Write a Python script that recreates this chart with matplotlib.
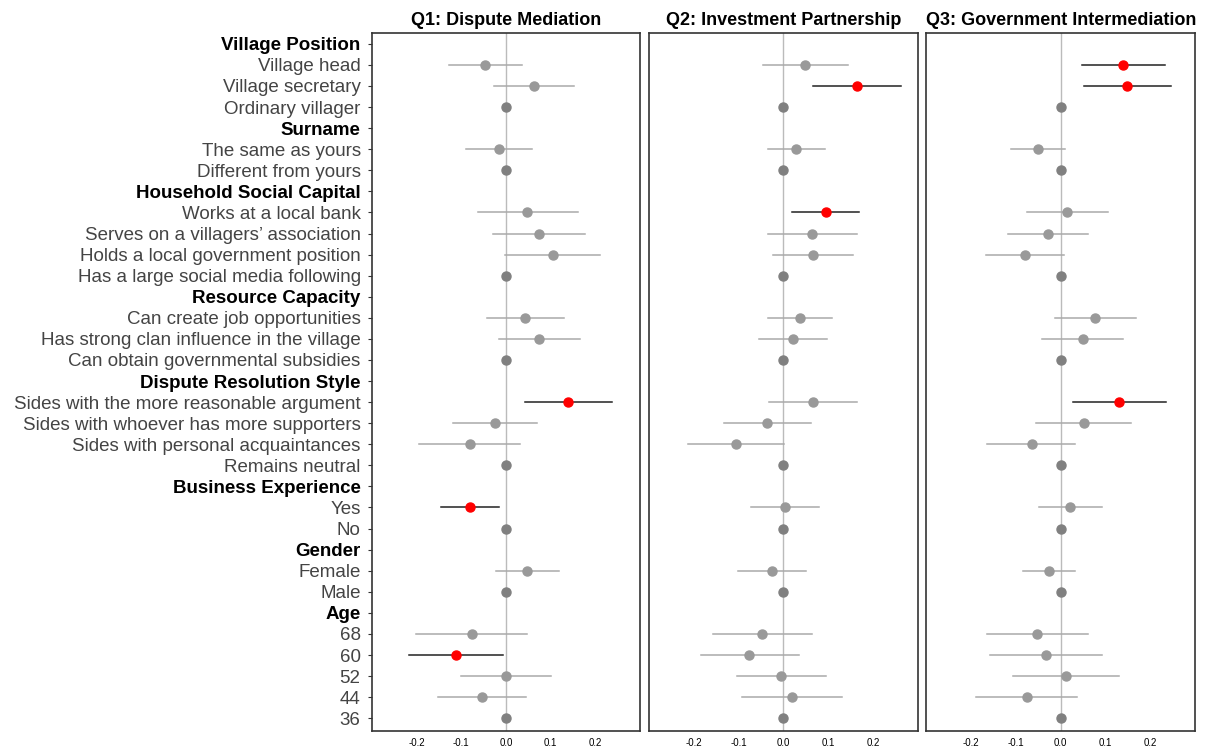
import numpy as np
import matplotlib.pyplot as plt

plt.rcParams['font.family'] = ['Liberation Sans', 'DejaVu Sans']

# rows, top to bottom; kind: h = header, r = reference level, i = estimated item
labels = ['Village Position', 'Village head', 'Village secretary', 'Ordinary villager',
          'Surname', 'The same as yours', 'Different from yours',
          'Household Social Capital', 'Works at a local bank', 'Serves on a villagers\u2019 association',
          'Holds a local government position', 'Has a large social media following',
          'Resource Capacity', 'Can create job opportunities', 'Has strong clan influence in the village',
          'Can obtain governmental subsidies',
          'Dispute Resolution Style', 'Sides with the more reasonable argument',
          'Sides with whoever has more supporters', 'Sides with personal acquaintances', 'Remains neutral',
          'Business Experience', 'Yes', 'No',
          'Gender', 'Female', 'Male',
          'Age', '68', '60', '52', '44', '36']
kinds = ['h', 'i', 'i', 'r',
         'h', 'i', 'r',
         'h', 'i', 'i', 'i', 'r',
         'h', 'i', 'i', 'r',
         'h', 'i', 'i', 'i', 'r',
         'h', 'i', 'r',
         'h', 'i', 'r',
         'h', 'i', 'i', 'i', 'i', 'r']

titles = ['Q1: Dispute Mediation', 'Q2: Investment Partnership', 'Q3: Government Intermediation']

n = np.nan
# estimates and 95% CI bounds (nan for headers / reference rows)
q1_est = [n, -0.046, 0.063, 0, n, -0.015, 0, n, 0.048, 0.074, 0.104, 0, n, 0.043, 0.074, 0,
          n, 0.139, -0.025, -0.081, 0, n, -0.081, 0, n, 0.048, 0, n, -0.077, -0.111, 0.000, -0.054, 0]
q1_lo = [n, -0.127, -0.026, n, n, -0.089, n, n, -0.063, -0.029, -0.003, n, n, -0.043, -0.015, n,
         n, 0.042, -0.118, -0.194, n, n, -0.145, n, n, -0.023, n, n, -0.202, -0.217, -0.100, -0.152, n]
q1_hi = [n, 0.035, 0.152, n, n, 0.059, n, n, 0.161, 0.177, 0.210, n, n, 0.129, 0.166, n,
         n, 0.237, 0.070, 0.032, n, n, -0.016, n, n, 0.118, n, n, 0.046, -0.006, 0.100, 0.045, n]

q2_est = [n, 0.049, 0.164, 0, n, 0.029, 0, n, 0.095, 0.064, 0.067, 0, n, 0.037, 0.022, 0,
          n, 0.067, -0.036, -0.106, 0, n, 0.004, 0, n, -0.026, 0, n, -0.047, -0.076, -0.005, 0.019, 0]
q2_lo = [n, -0.045, 0.066, n, n, -0.035, n, n, 0.019, -0.035, -0.022, n, n, -0.035, -0.054, n,
         n, -0.031, -0.133, -0.213, n, n, -0.072, n, n, -0.101, n, n, -0.157, -0.184, -0.104, -0.093, n]
q2_hi = [n, 0.144, 0.263, n, n, 0.092, n, n, 0.170, 0.164, 0.155, n, n, 0.108, 0.098, n,
         n, 0.165, 0.061, 0.002, n, n, 0.079, n, n, 0.050, n, n, 0.063, 0.034, 0.095, 0.132, n]

q3_est = [n, 0.140, 0.149, 0, n, -0.051, 0, n, 0.015, -0.028, -0.080, 0, n, 0.077, 0.050, 0,
          n, 0.131, 0.051, -0.065, 0, n, 0.021, 0, n, -0.027, 0, n, -0.053, -0.033, 0.011, -0.076, 0]
q3_lo = [n, 0.048, 0.053, n, n, -0.110, n, n, -0.076, -0.118, -0.167, n, n, -0.012, -0.041, n,
         n, 0.027, -0.056, -0.164, n, n, -0.049, n, n, -0.085, n, n, -0.165, -0.157, -0.107, -0.190, n]
q3_hi = [n, 0.232, 0.246, n, n, 0.009, n, n, 0.105, 0.062, 0.008, n, n, 0.168, 0.140, n,
         n, 0.236, 0.158, 0.033, n, n, 0.092, n, n, 0.032, n, n, 0.061, 0.092, 0.130, 0.037, n]

panels = [(q1_est, q1_lo, q1_hi), (q2_est, q2_lo, q2_hi), (q3_est, q3_lo, q3_hi)]

fig, axes = plt.subplots(1, 3, figsize=(12.07, 7.47), dpi=100, sharey=True)
fig.subplots_adjust(left=0.308, right=0.990, top=0.956, bottom=0.021, wspace=0.033)

y = np.arange(len(labels))

for ax, title, (est, lo, hi) in zip(axes, titles, panels):
    ax.axvline(0, color='#bbbbbb', lw=1, zorder=1)
    for yi, k, e, l, h in zip(y, kinds, est, lo, hi):
        if k == 'h':
            continue
        if k == 'r':
            ax.plot(e, yi, 'o', color='#808080', ms=6.5, zorder=3)
            continue
        sig = l > 0 or h < 0
        lc = '#222222' if sig else '#aaaaaa'
        pc = '#ff0000' if sig else '#999999'
        ax.plot([l, h], [yi, yi], color=lc, lw=1.1, zorder=2)
        ax.plot(e, yi, 'o', color=pc, ms=6.5, zorder=3)
    ax.set_xlim(-0.3, 0.3)
    ax.set_xticks([-0.2, -0.1, 0.0, 0.1, 0.2])
    ax.set_xticklabels(['-0.2', '-0.1', '0.0', '0.1', '0.2'])
    ax.tick_params(axis='x', length=0, labelsize=7, pad=5)
    ax.set_title(title, fontsize=13, fontweight='bold', pad=6)
    for s in ax.spines.values():
        s.set_color('#333333')
        s.set_linewidth(1.2)

axes[0].set_ylim(len(labels) - 0.38, -0.52)
axes[0].set_yticks(y)
axes[0].set_yticklabels(labels)
axes[0].tick_params(axis='y', length=3, width=0.8, color='#333333', pad=5)
for tl, k in zip(axes[0].get_yticklabels(), kinds):
    if k == 'h':
        tl.set_fontweight('bold')
        tl.set_color('black')
    else:
        tl.set_color('#444444')
    tl.set_fontsize(13.5)
for ax in axes[1:]:
    ax.tick_params(axis='y', length=0)

plt.savefig('out.png', dpi=100)
